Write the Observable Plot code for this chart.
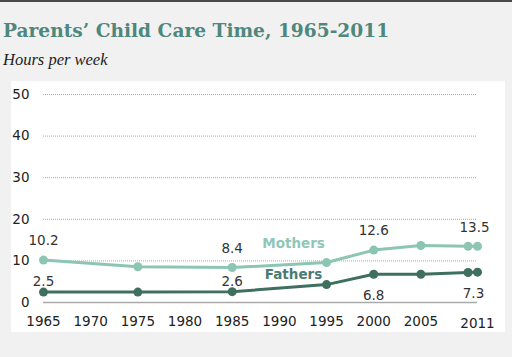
<!DOCTYPE html>
<html>
<head>
<meta charset="utf-8">
<script src="https://cdn.jsdelivr.net/npm/d3@7"></script>
<script src="https://cdn.jsdelivr.net/npm/@observablehq/plot@0.6"></script>
<style>
  html, body { margin: 0; padding: 0; }
  body { width: 512px; height: 357px; background: #f1f1f1; position: relative; overflow: hidden; }
  #topline { position: absolute; left: 0; top: 0; width: 512px; height: 2px; background: #4a4a4a; }
  #title { position: absolute; left: 3px; top: 20px; font-family: "DejaVu Serif", serif; font-weight: bold; font-size: 18.6px; line-height: 22px; color: #4f877c; white-space: nowrap; }
  #subtitle { position: absolute; left: 3px; top: 51px; font-family: "Liberation Serif", serif; font-style: italic; font-size: 16.5px; line-height: 18px; color: #222; white-space: nowrap; }
  #panel { position: absolute; left: 11px; top: 81px; width: 494px; height: 251px; background: #fff; }
</style>
</head>
<body>
<div id="topline"></div>
<div id="title">Parents’ Child Care Time, 1965-2011</div>
<div id="subtitle">Hours per week</div>
<div id="panel"></div>
<script>
const years   = [1965, 1975, 1985, 1995, 2000, 2005, 2010, 2011];
const mothers = [10.2, 8.6, 8.4, 9.6, 12.6, 13.7, 13.5, 13.5];
const fathers = [2.5, 2.5, 2.6, 4.3, 6.8, 6.8, 7.2, 7.3];
const xTicks  = [1965, 1970, 1975, 1980, 1985, 1990, 1995, 2000, 2005];
const xLastTick = [2011];
const yTicks  = [0, 10, 20, 30, 40, 50];
const motherLabelYears = [1965, 1985, 2000];
const fatherLabelYearsAbove = [1965, 1985];
const fatherLabelYearsBelow = [2000];
const lastYear = 2011;
const seriesLabelYear = 1995;

const mData = years.map((y, i) => ({year: y, value: mothers[i]}));
const fData = years.map((y, i) => ({year: y, value: fathers[i]}));

const cMom = "#8cc6b2";
const cDad = "#3f6f5e";
const fmt = d => d.value.toFixed(1);

const chart = Plot.plot({
  width: 494,
  height: 251,
  marginLeft: 32,
  marginRight: 28,
  marginTop: 13,
  marginBottom: 30,
  style: { fontFamily: "DejaVu Sans, Verdana, sans-serif", fontSize: "13.5px", color: "#222", background: "#fff", overflow: "visible" },
  x: { domain: [1965, 2011] },
  y: { domain: [0, 50] },
  marks: [
    Plot.ruleY(yTicks.filter(d => d > 0), { stroke: "#a8a8a8", strokeWidth: 1, strokeDasharray: "1,1" }),
    Plot.ruleY([0], { stroke: "#aaaaaa", strokeWidth: 1.5 }),
    Plot.axisY({ ticks: yTicks, tickSize: 0, tickPadding: 14, label: null, fill: "#222" }),
    Plot.axisX({ ticks: xTicks, tickSize: 0, tickPadding: 14, tickFormat: d => String(d), label: null, fill: "#222" }),
    Plot.text(xLastTick, { x: d => d, y: 0, text: d => String(d), lineAnchor: "top", dy: 16, fill: "#222" }),
    Plot.line(mData, { x: "year", y: "value", stroke: cMom, strokeWidth: 3 }),
    Plot.dot(mData, { x: "year", y: "value", r: 4.5, fill: cMom }),
    Plot.line(fData, { x: "year", y: "value", stroke: cDad, strokeWidth: 3 }),
    Plot.dot(fData, { x: "year", y: "value", r: 4.5, fill: cDad }),
    Plot.text(mData.filter(d => motherLabelYears.includes(d.year)), { x: "year", y: "value", text: fmt, dy: -19, fill: "#333" }),
    Plot.text(mData.filter(d => d.year === lastYear), { x: "year", y: "value", text: fmt, dy: -19, dx: -3, fill: "#333" }),
    Plot.text(fData.filter(d => fatherLabelYearsAbove.includes(d.year)), { x: "year", y: "value", text: fmt, dy: -10, fill: "#333" }),
    Plot.text(fData.filter(d => fatherLabelYearsBelow.includes(d.year)), { x: "year", y: "value", text: fmt, dy: 21, fill: "#333" }),
    Plot.text(fData.filter(d => d.year === lastYear), { x: "year", y: "value", text: fmt, dy: 22, dx: -4, fill: "#333" }),
    Plot.text(mData.filter(d => d.year === seriesLabelYear), { x: "year", y: "value", text: () => "Mothers", dx: -33, dy: -19, fill: "#8fc7b6", fontWeight: "bold" }),
    Plot.text(fData.filter(d => d.year === seriesLabelYear), { x: "year", y: "value", text: () => "Fathers", dx: -33, dy: -10, fill: "#4b7b72", fontWeight: "bold" })
  ]
});
document.getElementById("panel").appendChild(chart);
</script>
</body>
</html>
